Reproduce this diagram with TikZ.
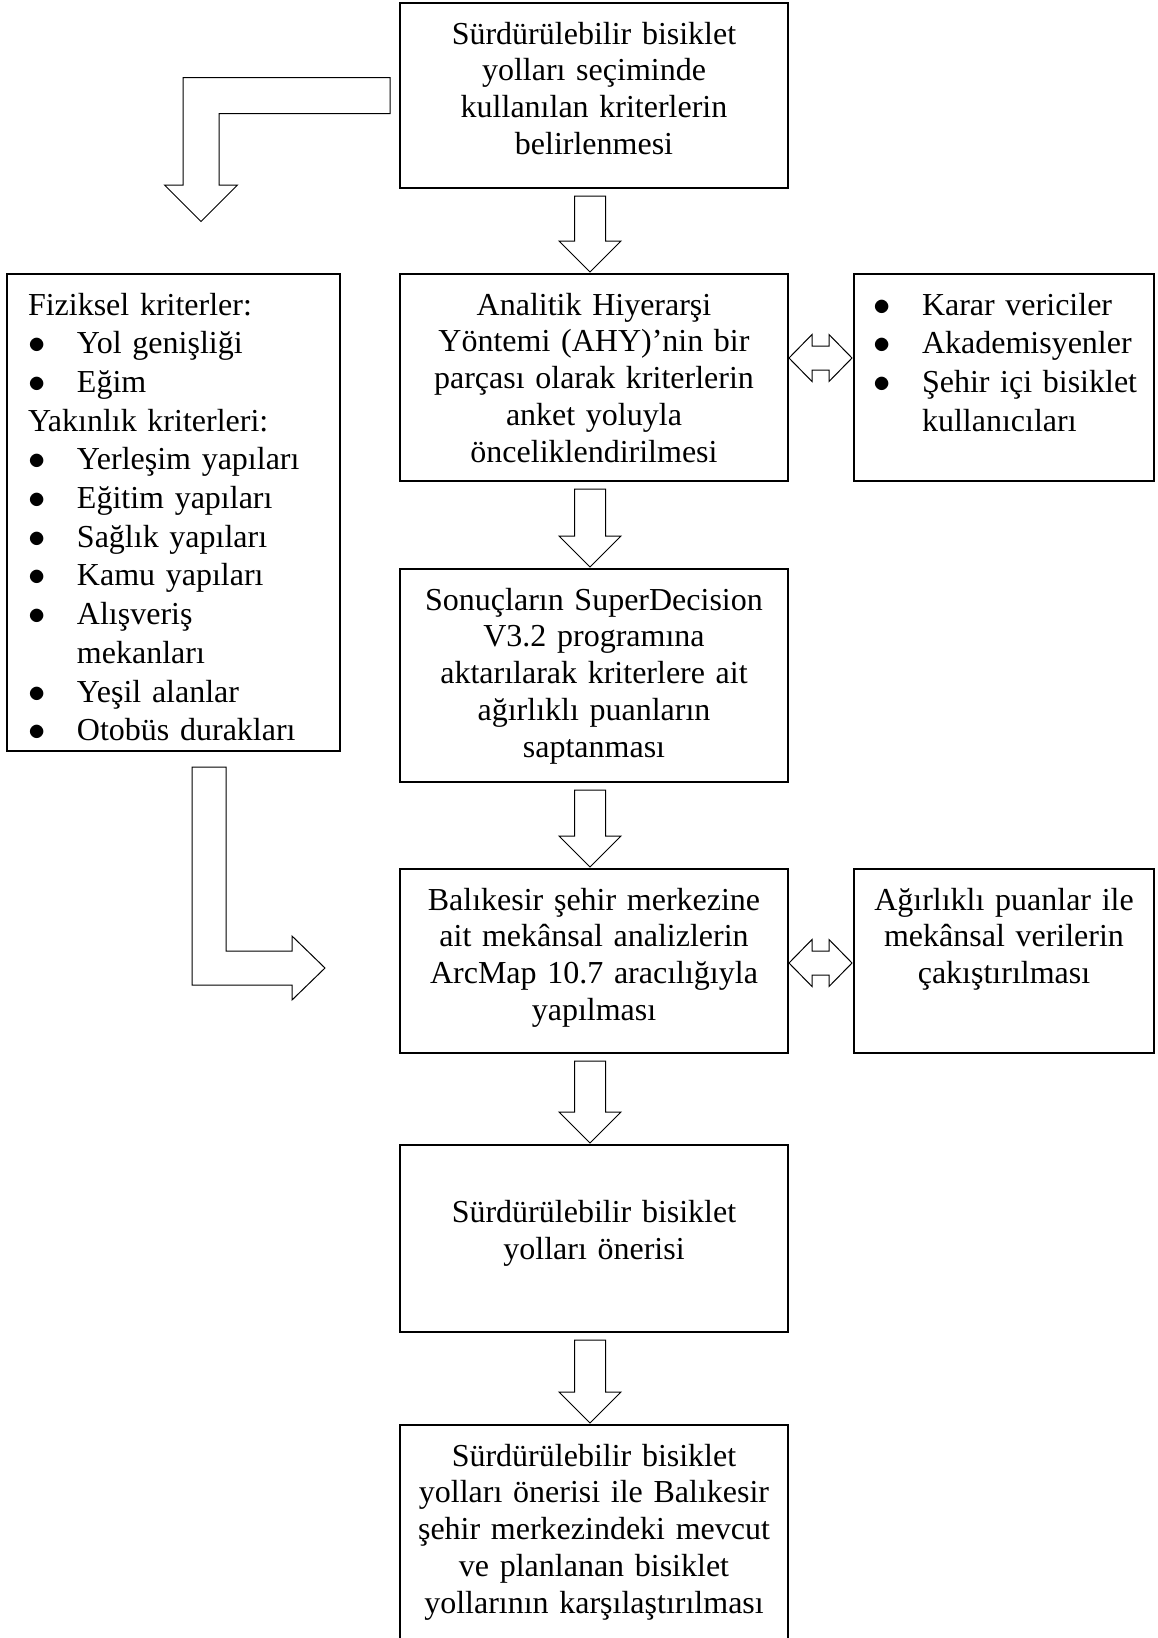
\documentclass[tikz,border=0pt]{standalone}
\usepackage{fontspec}
\setmainfont{Liberation Serif}
\usepackage{tikz}
\usetikzlibrary{positioning,calc}

% hollow block arrows between boxes
\newcommand{\flowdown}[2]{%
  \draw[blockarrow] let \p1=($(#1.south)+(-2pt,0)$), \p2=(#2.north) in
    (\x1-7.75pt,\y1-4pt) -- (\x1+7.75pt,\y1-4pt) -- (\x1+7.75pt,\y2+16.5pt)
    -- (\x1+15.5pt,\y2+16.5pt) -- (\x1,\y2+1pt) -- (\x1-15.5pt,\y2+16.5pt)
    -- (\x1-7.75pt,\y2+16.5pt) -- cycle;}
\newcommand{\flowboth}[3]{%
  \draw[blockarrow] let \p1=($(#1.east)+(0.5pt,#3)$), \p2=($(#2.west)+(-1pt,#3)$) in
    (\x1,\y1) -- (\x1+11.5pt,\y1+11.75pt) -- (\x1+11.5pt,\y1+6pt) -- (\x2-11.5pt,\y1+6pt)
    -- (\x2-11.5pt,\y1+11.75pt) -- (\x2,\y1) -- (\x2-11.5pt,\y1-11.75pt) -- (\x2-11.5pt,\y1-6pt)
    -- (\x1+11.5pt,\y1-6pt) -- (\x1+11.5pt,\y1-11.75pt) -- cycle;}
\newcommand{\bitem}[1]{\makebox[24.5pt][l]{$\bullet$}\mbox{#1}}

\begin{document}
\begin{tikzpicture}[
    box/.style={rectangle, draw, line width=1pt, outer sep=0pt, inner ysep=0pt, inner xsep=7pt,
      text width=180pt, align=center, text height=20.5pt,
      font=\fontsize{16pt}{18.4pt}\selectfont},
    sidebox/.style={box, inner xsep=9.5pt, text width=131pt, align=left,
      font=\fontsize{16pt}{19.4pt}\selectfont},
    listbox/.style={box, inner xsep=10.5pt, text width=145.5pt, align=left,
      font=\fontsize{16pt}{19.35pt}\selectfont},
    blockarrow/.style={draw, line width=0.5pt, line join=miter}
]
\useasboundingbox (0,0) rectangle (578.5pt,-819pt);

\node[box, text depth=72pt, anchor=north] (crit) at (297pt,-1.5pt)
  {Sürdürülebilir bisiklet\\ yolları seçiminde\\ kullanılan kriterlerin\\ belirlenmesi};
\node[box, text depth=83pt, below=43pt of crit] (ahy)
  {Analitik Hiyerarşi\\ Yöntemi (AHY)’nin bir\\ parçası olarak kriterlerin\\ anket yoluyla\\ önceliklendirilmesi};
\node[box, text depth=86pt, below=44pt of ahy] (sup)
  {Sonuçların SuperDecision\\ V3.2 programına\\ aktarılarak kriterlere ait\\ ağırlıklı puanların\\ saptanması};
\node[box, text depth=71.5pt, below=43.5pt of sup] (bal)
  {Balıkesir şehir merkezine\\ ait mekânsal analizlerin\\ ArcMap 10.7 aracılığıyla\\ yapılması};
\node[box, text height=38.9pt, text depth=54.6pt, below=46pt of bal] (oner)
  {Sürdürülebilir bisiklet\\ yolları önerisi};
\node[box, text depth=88pt, below=46.5pt of oner] (final)
  {Sürdürülebilir bisiklet\\ yolları önerisi ile Balıkesir\\ şehir merkezindeki mevcut\\ ve planlanan bisiklet\\ yollarının karşılaştırılması};

\node[sidebox, text depth=83pt, right=33pt of ahy] (src)
  {\bitem{Karar vericiler}\\ \bitem{Akademisyenler}\\ \bitem{Şehir içi bisiklet}\\ \hspace*{24.5pt}kullanıcıları};
\node[box, text width=136pt, text depth=71.5pt, right=33pt of bal] (agr)
  {Ağırlıklı puanlar ile\\ mekânsal verilerin\\ çakıştırılması};
\node[listbox, text depth=218pt, left=30pt of ahy.north west, anchor=north east] (kr)
  {Fiziksel kriterler:\\ \bitem{Yol genişliği}\\ \bitem{Eğim}\\ Yakınlık kriterleri:\\
   \bitem{Yerleşim yapıları}\\ \bitem{Eğitim yapıları}\\ \bitem{Sağlık yapıları}\\
   \bitem{Kamu yapıları}\\ \bitem{Alışveriş}\\ \hspace*{24.5pt}mekanları\\
   \bitem{Yeşil alanlar}\\ \bitem{Otobüs durakları}};

\flowdown{crit}{ahy}
\flowdown{ahy}{sup}
\flowdown{sup}{bal}
\flowdown{bal}{oner}
\flowdown{oner}{final}
\flowboth{ahy}{src}{9.75pt}
\flowboth{bal}{agr}{-1pt}

% bent arrow from the first box to the criteria list
\draw[blockarrow] let \p1=(crit.west) in
  (\x1-5pt,\y1+9pt) -- (\x1-108.5pt,\y1+9pt) -- (\x1-108.5pt,\y1-44.75pt)
  -- (\x1-117.75pt,\y1-44.75pt) -- (\x1-99.5pt,\y1-63pt) -- (\x1-81.25pt,\y1-44.75pt)
  -- (\x1-90.5pt,\y1-44.75pt) -- (\x1-90.5pt,\y1-9pt) -- (\x1-5pt,\y1-9pt) -- cycle;
% bent arrow from the criteria list to the spatial analysis
\draw[blockarrow] let \p1=(kr.south) in
  (\x1+9.25pt,\y1-8pt) -- (\x1+26.25pt,\y1-8pt) -- (\x1+26.25pt,\y1-100pt)
  -- (\x1+59.25pt,\y1-100pt) -- (\x1+59.25pt,\y1-92.5pt) -- (\x1+75.75pt,\y1-108.5pt)
  -- (\x1+59.25pt,\y1-124.5pt) -- (\x1+59.25pt,\y1-117pt) -- (\x1+9.25pt,\y1-117pt) -- cycle;
\end{tikzpicture}
\end{document}
